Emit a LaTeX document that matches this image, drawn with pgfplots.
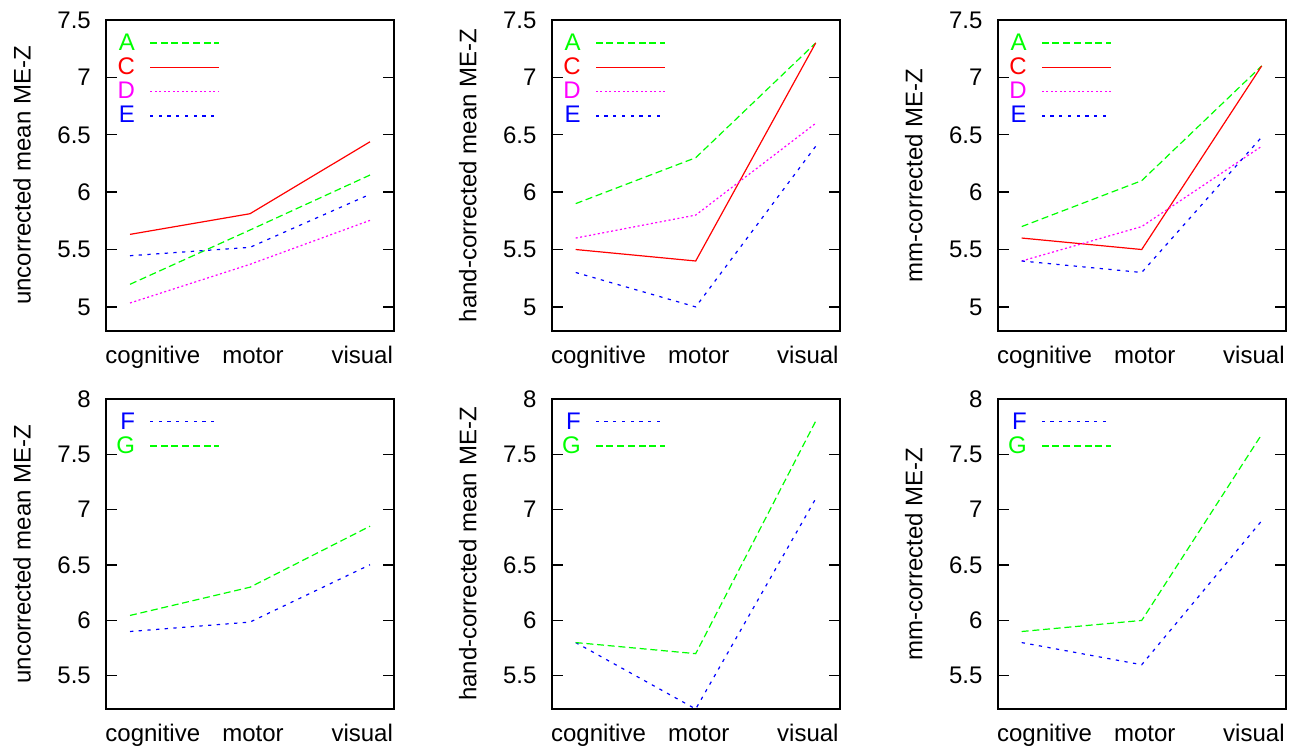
\documentclass[border=0pt]{standalone}
\usepackage{pgfplots}
\pgfplotsset{compat=1.18}
\usepackage{fontspec}
\setmainfont{Liberation Sans}
\definecolor{gA}{RGB}{0,255,0}
\definecolor{rC}{RGB}{255,0,0}
\definecolor{mD}{RGB}{255,0,255}
\definecolor{bE}{RGB}{0,0,255}
\newfontfamily\fgreen{Liberation Sans}[Color=00FF00]
\newfontfamily\fred{Liberation Sans}[Color=FF0000]
\newfontfamily\fmag{Liberation Sans}[Color=FF00FF]
\newfontfamily\fblue{Liberation Sans}[Color=0000FF]
\tikzset{
  lA/.style={color=gA, line width=1.2pt, dash pattern=on 7pt off 3.7pt},
  lC/.style={color=rC, line width=1.2pt, solid},
  lD/.style={color=mD, line width=1.2pt, dash pattern=on 2pt off 2.5pt},
  lE/.style={color=bE, line width=1.2pt, dash pattern=on 3.3pt off 5.4pt},
}
% legend sample as filled dashes: #1 colour, #2/#3 top/bottom offset below axis top (pt), #4 list macro of x0/x1
\newcommand\legrects[4]{%
  \foreach \xa/\xb in #4{\fill[#1, draw=none] ([xshift=\xa pt, yshift=-#2pt]axis description cs:0,1) rectangle ([xshift=\xb pt, yshift=-#3pt]axis description cs:0,1);}}
\def\dashA{44/51, 54.7/61.7, 65.4/72.4, 76.1/83.1, 86.8/93.8, 97.5/104.5, 108.2/113}
\def\dashC{44/113}
\def\dashD{44/46, 48.5/50.5, 53/55, 57.5/59.5, 62/64, 66.5/68.5, 71/73, 75.5/77.5, 80/82, 84.5/86.5, 89/91, 93.5/95.5, 98/100, 102.5/104.5, 107/109, 111.5/113}
\def\dashE{44/47.3, 52.7/56, 61.4/64.7, 70.1/73.4, 78.8/82.1, 87.5/90.8, 96.2/99.5, 104.9/108.2}
\pgfplotsset{
  base/.style={
    scale only axis, width=288pt,
    font=\fontsize{24}{28}\selectfont,
    /pgf/number format/assume math mode=true,
    axis line style={line width=1.6pt},
    xmin=-0.2, xmax=2.2,
    xtick={0.19,1.025,1.935},
    xticklabels={cognitive,motor,visual},
    xtick style={draw=none},
    xticklabel style={anchor=base, inner sep=0pt, yshift=-32pt},
    ytick pos=both, tick align=inside,
    major tick length=11pt,
    ytick style={line width=1.4pt, black},
    yticklabel style={anchor=east, inner sep=0pt, xshift=-15pt},
    every axis y label/.style={at={([xshift=-84pt]axis description cs:0,0.5)}, anchor=center, rotate=90},
    legend plot pos=none,
    legend cell align=right,
    legend style={draw=none, fill=none, at={(axis description cs:0,1)}, anchor=north east,
      xshift=29pt, yshift=-13pt, inner sep=0pt, outer sep=0pt, row sep=0pt,
      nodes={inner sep=0pt, text height=17pt, text depth=7.3pt},
      font=\fontsize{24}{28}\selectfont},
  },
  top/.style={base, height=311pt, ymin=4.79, ymax=7.5, ytick={5,5.5,6,6.5,7,7.5},
    extra description/.code={%
      \legrects{gA}{22.4}{23.6}{\dashA}%
      \legrects{rC}{46.7}{47.9}{\dashC}%
      \legrects{mD}{71.0}{72.2}{\dashD}%
      \legrects{bE}{95.3}{96.5}{\dashE}}},
  bot/.style={base, height=310pt, ymin=5.2, ymax=8, ytick={5.5,6,6.5,7,7.5,8},
    extra description/.code={%
      \legrects{bE}{22.1}{23.3}{\dashE}%
      \legrects{gA}{46.4}{47.6}{\dashA}}},
}
\begin{document}
\begin{tikzpicture}
\useasboundingbox (0pt,0pt) rectangle (1297pt,-749pt);
% top row
\begin{axis}[top, at={(106pt,-20pt)}, anchor=north west, ylabel={uncorrected mean ME-Z}]
\addplot[lA] coordinates {(0,5.197) (1,5.67) (2,6.149)}; \addlegendentry{\fgreen A}
\addplot[lC] coordinates {(0,5.632) (1,5.812) (2,6.439)}; \addlegendentry{\fred C}
\addplot[lD] coordinates {(0,5.034) (1,5.371) (2,5.754)}; \addlegendentry{\fmag D}
\addplot[lE] coordinates {(0,5.446) (1,5.519) (2,5.981)}; \addlegendentry{\fblue E}
\end{axis}
\begin{axis}[top, at={(551.7pt,-20pt)}, anchor=north west, ylabel={hand-corrected mean ME-Z}]
\addplot[lA] coordinates {(0,5.9) (1,6.3) (2,7.3)}; \addlegendentry{\fgreen A}
\addplot[lC] coordinates {(0,5.5) (1,5.4) (2,7.3)}; \addlegendentry{\fred C}
\addplot[lD] coordinates {(0,5.6) (1,5.8) (2,6.6)}; \addlegendentry{\fmag D}
\addplot[lE] coordinates {(0,5.3) (1,5.0) (2,6.4)}; \addlegendentry{\fblue E}
\end{axis}
\begin{axis}[top, at={(997.7pt,-20pt)}, anchor=north west, ylabel={mm-corrected ME-Z}]
\addplot[lA] coordinates {(0,5.7) (1,6.1) (2,7.1)}; \addlegendentry{\fgreen A}
\addplot[lC] coordinates {(0,5.6) (1,5.5) (2,7.1)}; \addlegendentry{\fred C}
\addplot[lD] coordinates {(0,5.4) (1,5.7) (2,6.4)}; \addlegendentry{\fmag D}
\addplot[lE] coordinates {(0,5.4) (1,5.3) (2,6.48)}; \addlegendentry{\fblue E}
\end{axis}
% bottom row
\begin{axis}[bot, at={(106pt,-399pt)}, anchor=north west, ylabel={uncorrected mean ME-Z}]
\addplot[lE] coordinates {(0,5.9) (1,5.985) (2,6.503)}; \addlegendentry{\fblue F}
\addplot[lA] coordinates {(0,6.045) (1,6.30) (2,6.851)}; \addlegendentry{\fgreen G}
\end{axis}
\begin{axis}[bot, at={(551.7pt,-399pt)}, anchor=north west, ylabel={hand-corrected mean ME-Z}]
\addplot[lE] coordinates {(0,5.8) (1,5.2) (2,7.1)}; \addlegendentry{\fblue F}
\addplot[lA] coordinates {(0,5.8) (1,5.7) (2,7.8)}; \addlegendentry{\fgreen G}
\end{axis}
\begin{axis}[bot, at={(997.7pt,-399pt)}, anchor=north west, ylabel={mm-corrected ME-Z}]
\addplot[lE] coordinates {(0,5.8) (1,5.6) (2,6.9)}; \addlegendentry{\fblue F}
\addplot[lA] coordinates {(0,5.9) (1,6.0) (2,7.68)}; \addlegendentry{\fgreen G}
\end{axis}
\end{tikzpicture}
\end{document}
